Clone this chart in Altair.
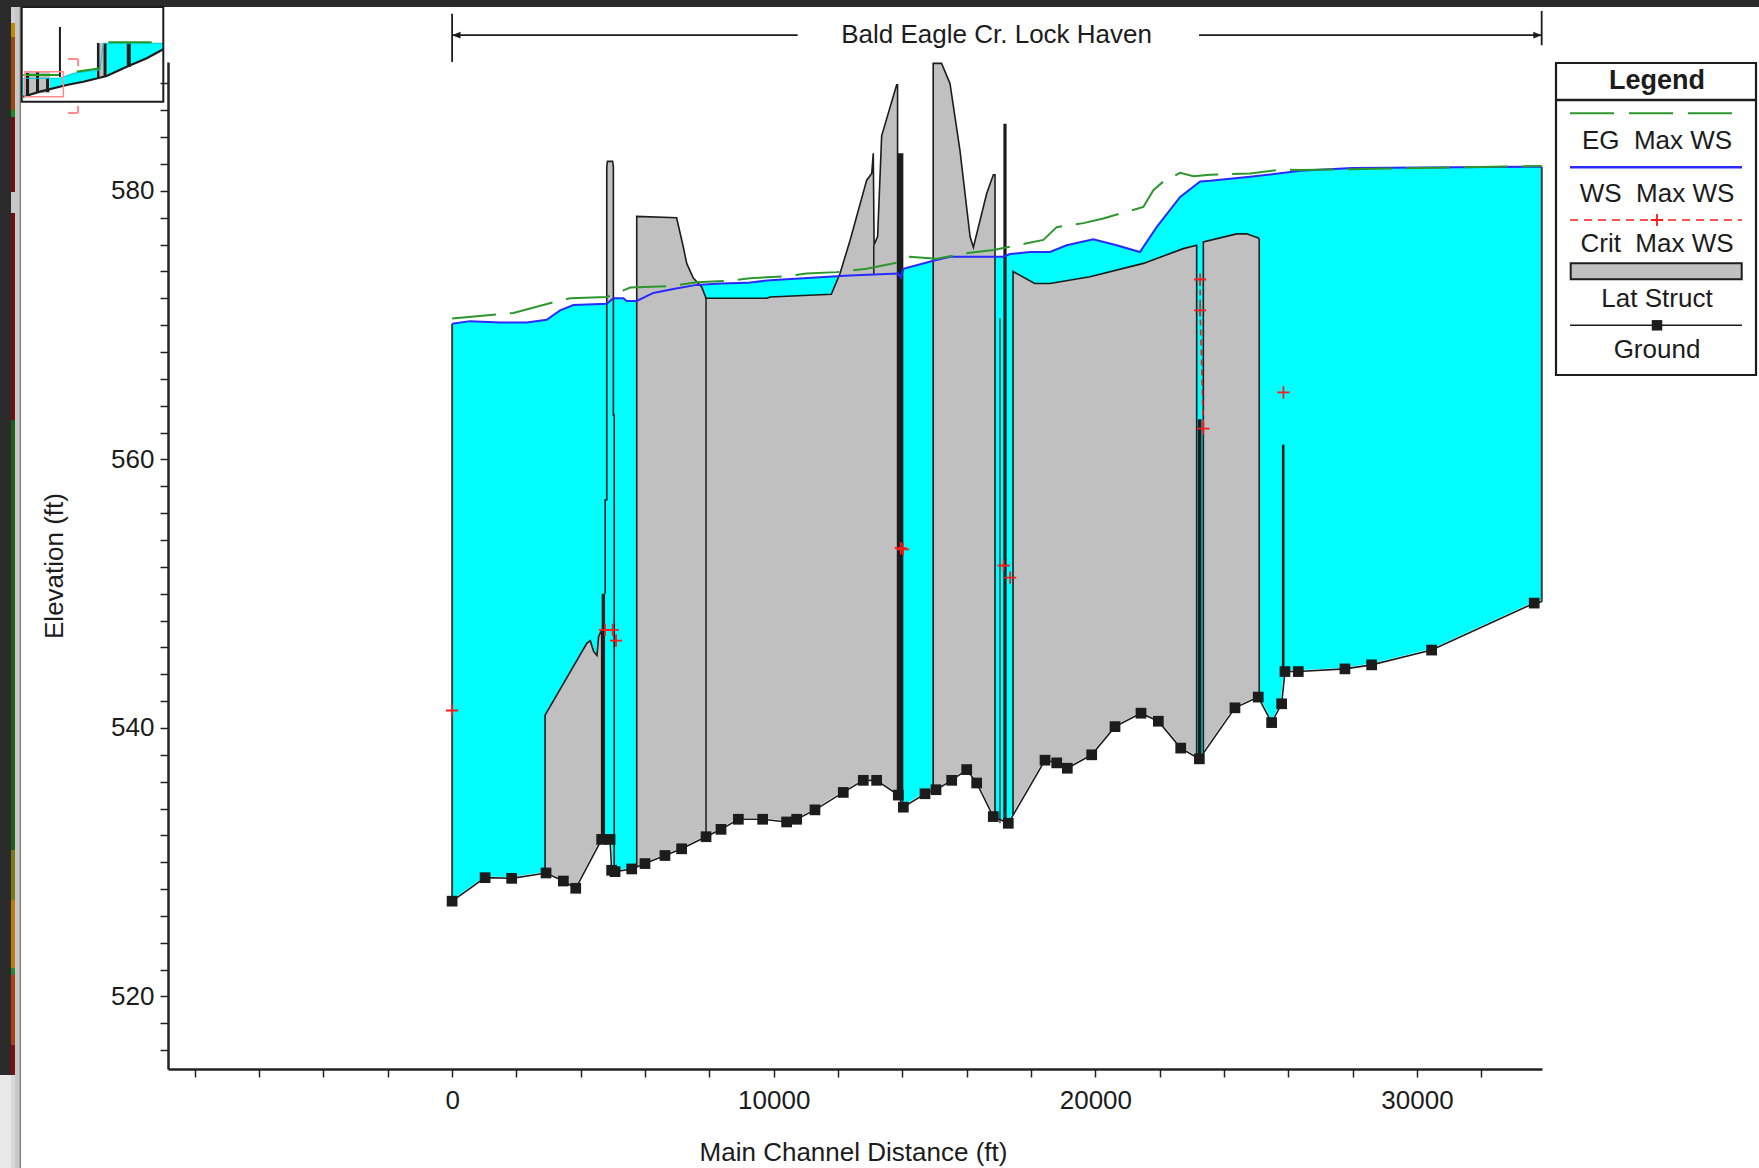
import altair as alt
import pandas as pd

FONT = "Liberation Sans"
INK = "#1c1c1c"
CYAN = "#00ffff"
GRAY = "#c0c0c0"
WS_BLUE = "#2a2aff"
EG_GREEN = "#2e962e"
RED = "#ff1a1a"

# ---------------------------------------------------------------- data
GROUND_X = [0, 1026, 1852, 2920, 3458, 3843, 4650, 4911, 4960, 5066, 5584, 5996, 6618, 7136,
            7895, 8361, 8900, 9655, 10400, 10713, 11282, 12162, 12784, 13199, 13873, 14029,
            14703, 15045, 15533, 16000, 16310, 16826, 17293, 18434, 18798, 19128, 19886, 20611,
            21419, 21958, 22654, 23233, 24340, 25064, 25480, 25791, 25895, 26309, 27760, 28590,
            30455, 33645]
GROUND_E = [527.1, 528.85, 528.8, 529.2, 528.6, 528.06, 531.7, 531.7, 529.4, 529.3, 529.5, 529.9,
            530.5, 531.0, 531.9, 532.45, 533.2, 533.2, 533.0, 533.2, 533.9, 535.2, 536.1, 536.1,
            535.0, 534.1, 535.1, 535.4, 536.1, 536.9, 535.9, 533.4, 532.9, 537.6, 537.4, 537.0,
            538.0, 540.1, 541.1, 540.5, 538.5, 537.7, 541.5, 542.3, 540.4, 541.8, 544.2, 544.2,
            544.4, 544.7, 545.8, 549.3]
GROUND_END_X = [33880]
GROUND_END_E = [549.4]

WS_X = [0, 560, 1490, 2320, 2940, 3357, 3770, 4808, 5014, 5325, 5428, 5740, 6258, 6880, 7600,
        8330, 9160, 9885, 10920, 11955, 12372, 13870, 13950, 14030, 14958, 15480, 17137, 17345,
        17967, 18589, 19107, 19934, 20662, 21386, 21905, 22636, 23258, 23569, 24812, 26367,
        28000, 33880]
WS_E = [570.1, 570.3, 570.2, 570.2, 570.4, 571.1, 571.5, 571.6, 572.0, 572.0, 571.8, 571.8,
        572.4, 572.7, 573.0, 573.1, 573.15, 573.35, 573.5, 573.65, 573.7, 573.85, 573.55, 574.2,
        574.8, 575.1, 575.1, 575.3, 575.45, 575.45, 575.95, 576.4, 575.95, 575.45, 577.3, 579.55,
        580.7, 580.75, 581.05, 581.5, 581.7, 581.8]

EG_X = [0, 1390, 1905, 3150, 3670, 4808, 5540, 6780, 7600, 8640, 9260, 10400, 11020, 11955,
        12890, 13927, 14186, 15068, 16104, 16828, 17866, 18384, 18798, 19626, 20248, 21492,
        21803, 22114, 22636, 23050, 23569, 24812, 25848, 26367, 33880]
EG_E = [570.5, 570.8, 570.9, 571.7, 572.0, 572.1, 572.8, 572.9, 573.2, 573.3, 573.5, 573.65,
        573.85, 573.95, 574.2, 574.7, 575.1, 574.95, 575.4, 575.6, 576.1, 576.35, 577.3, 577.6,
        577.95, 578.8, 580.05, 580.7, 581.35, 581.1, 581.2, 581.3, 581.6, 581.55, 581.85]

CRIT_X = [0, 4755, 4994, 5097, 13950, 14020, 17150, 17350, 23258, 23258, 23357, 25848]
CRIT_E = [541.3, 547.3, 547.3, 546.5, 553.4, 553.3, 552.1, 551.2, 573.4, 571.1, 562.3, 565.0]
CRIT_LINE_X = [23258, 23258, 23357]
CRIT_LINE_E = [573.4, 571.1, 562.3]

# lateral structures: crest profile + ground at both ends
LAT_NAMES = ["A", "B", "E", "F1", "F2"]
LAT_TOP_X = {
    "A": [2890, 4187, 4296, 4400, 4504, 4555, 4650],
    "B": [5740, 6980, 7190, 7294, 7500, 7760, 7864, 7895, 9780, 9885, 11790, 12060, 12372,
          12890, 13046, 13095, 13120, 13230, 13355, 13822, 13850],
    "E": [14958, 15218, 15480, 15791, 16104, 16207, 16621, 16828, 16880],
    "F1": [17440, 18114, 18589, 19832, 21492, 22735, 23150],
    "F2": [23357, 24392, 24703, 25066, 25095],
}
LAT_TOP_E = {
    "A": [540.95, 546.3, 546.5, 545.7, 545.4, 546.8, 547.3],
    "B": [578.1, 578.0, 575.8, 574.6, 573.5, 572.85, 572.2, 572.0, 572.0, 572.1, 572.3, 573.85,
          576.3, 580.8, 581.3, 582.8, 576.0, 576.6, 584.1, 587.9, 587.9],
    "E": [589.5, 589.5, 588.0, 583.0, 576.6, 575.8, 579.8, 581.2, 581.2],
    "F1": [574.0, 573.1, 573.1, 573.6, 574.6, 575.7, 575.95],
    "F2": [576.2, 576.8, 576.8, 576.5, 576.4],
}
LAT_GROUND_L = {"A": 529.2, "B": 529.6, "E": 535.3, "F1": 533.5, "F2": 538.1}
LAT_GROUND_R = {"A": 531.7, "B": 535.05, "E": 533.4, "F1": 537.8, "F2": 542.2}

COL_TOP_X = [4808, 4830, 4990, 5014]
COL_TOP_E = [581.8, 582.2, 582.2, 581.8]
COL_BOTTOM = 571.8
COL_OUT_X = [4760, 4760, 4808, 4808, 4830, 4990, 5014, 5014, 5040, 5040]
COL_OUT_E = [550.0, 557.0, 557.0, 581.8, 582.2, 582.2, 581.8, 563.3, 563.3, 529.35]

# inline structures (solid black)
BAR_X1 = [4650, 13850, 17140, 23190]
BAR_X2 = [4755, 14030, 17240, 23300]
BAR_TOP = [550.0, 582.8, 585.0, 563.0]

# single vertical strokes
RULE_X = [0, 33880, 7895, 17034, 25840, 13110]
RULE_E0 = [527.1, 549.4, 531.9, 532.9, 544.2, 573.8]
RULE_E1 = [570.1, 581.8, 572.1, 570.5, 561.1, 576.0]
RULE_W = [2.0, 2.0, 1.5, 1.2, 2.6, 1.5]
RULE_C = ["#404040", "#404040", INK, INK, INK, INK]

REACH_LABEL = "Bald Eagle Cr. Lock Haven"
REACH_X = [0, 23224, 0, 33877]
REACH_X2 = [10743, 33877, 0, 33877]
REACH_E = [591.6, 591.6, 589.6, 590.85]
REACH_E2 = [591.6, 591.6, 593.2, 593.4]
REACH_LABEL_X = 16930
REACH_LABEL_E = 591.6

# overview inset (schematic units 0-100)
MINI_GROUND_X = [1.1, 12.9, 31.8, 43.5, 60.0, 74.2, 88.3, 100.0]
MINI_GROUND_E = [5.3, 10.6, 17.6, 21.1, 27.1, 37.0, 45.8, 55.3]
MINI_WS_X = [1.1, 27.0, 36.4, 55.3, 57.6, 100.0]
MINI_WS_E = [24.7, 24.7, 30.0, 33.5, 61.7, 61.7]
MINI_EG_SEG = [0, 0, 1, 1, 2, 2]
MINI_EG_X = [1.1, 27.0, 38.8, 55.3, 61.2, 91.8]
MINI_EG_E = [28.2, 28.2, 31.7, 35.3, 62.7, 62.7]
MINI_RECT_X1 = [2.3, 3.0, 10.1, 17.2, 53.0, 53.2, 57.8, 74.2]
MINI_RECT_X2 = [20.0, 5.2, 12.2, 19.3, 60.0, 54.9, 59.9, 77.0]
MINI_RECT_E1 = [9.2, 7.1, 10.2, 10.2, 26.1, 26.1, 26.1, 36.6]
MINI_RECT_E2 = [31.4, 30.3, 31.4, 25.0, 62.0, 62.0, 62.0, 62.0]
MINI_RECT_C = [GRAY, INK, INK, INK, GRAY, INK, INK, INK]
MINI_MARK_X1 = [27.0, 32.7, 39.8, 32.7, 39.8]
MINI_MARK_X2 = [27.0, 39.8, 39.8, 39.8, 39.8]
MINI_MARK_E1 = [26.1, 45.1, 45.1, -11.9, -11.9]
MINI_MARK_E2 = [78.9, 45.1, 37.7, -11.9, -4.5]
MINI_MARK_C = [INK, "#ff8c8c", "#ff8c8c", "#ff8c8c", "#ff8c8c"]

# screenshot frame (page pixels)
FRAME_X1 = [0, 0, 0, 15, 19.5] + [11] * 14
FRAME_X2 = [1759, 11, 11, 19.5, 21] + [15] * 14
FRAME_Y1 = [0, 0, 1075, 7, 7, 7, 23, 37, 110, 117, 192, 213, 420, 850, 900, 968, 975, 1045, 1075]
FRAME_Y2 = [7, 1075, 1168, 1168, 1168, 23, 37, 110, 117, 192, 213, 420, 850, 900, 968, 975, 1045, 1075, 1168]
FRAME_C = ["#2b2b2b", "#2b2b2b", "#e8e8e8", "#c8c8c8", "#7c7c7c",
           "#d0d0d0", "#c08a00", "#9a4a0c", "#1f8a1f", "#6e1010", "#c8c8c8", "#6e1010",
           "#1d5e1d", "#7a7a12", "#c07a10", "#2a8a2a", "#b0400f", "#7a1010", "#d8d8d8"]

LEGEND_TITLE = "Legend"
LEGEND_LABELS = ["EG\u00a0\u00a0Max WS", "WS\u00a0\u00a0Max WS", "Crit\u00a0\u00a0Max WS", "Lat Struct", "Ground"]

# ---------------------------------------------------------------- layout
X_MIN, X_MAX = -8834, 33887
Y_MIN, Y_MAX = 514.6, 589.6
W, H = 1374, 1007
OX, OY = 168, 62

xs = alt.Scale(domain=[X_MIN, X_MAX], nice=False, zero=False)
ys = alt.Scale(domain=[Y_MIN, Y_MAX], nice=False, zero=False)

axis_common = dict(
    domainColor="#222", domainWidth=2.5, tickColor="#222", tickWidth=1.5, tickSize=8,
    labelFont=FONT, labelFontSize=26, labelColor=INK, titleFont=FONT, titleFontSize=26,
    titleFontWeight="normal", titleColor=INK, grid=False, zindex=1, labelFlush=False,
    labelOverlap=False,
)
xaxis = alt.Axis(
    values=list(range(-8000, 33000, 2000)), format="d",
    labelExpr="datum.value % 10000 == 0 ? datum.label : ''",
    title="Main Channel Distance (ft)", labelPadding=10,
    titleX=685, titleY=91, titleAlign="center", titleBaseline="alphabetic",
    **axis_common,
)
yaxis = alt.Axis(
    values=list(range(516, 590, 2)), format="d",
    labelExpr="datum.value % 20 == 0 ? datum.label : ''",
    title="Elevation (ft)", labelPadding=6,
    titleAngle=270, titleX=-106, titleY=503.5, titleAlign="center", titleBaseline="alphabetic",
    **axis_common,
)


def X(f="x"):
    return alt.X(f"{f}:Q", scale=xs, axis=xaxis)


def Y(f="e"):
    return alt.Y(f"{f}:Q", scale=ys, axis=yaxis, stack=None)


# ---------------------------------------------------------------- tables
df_ws = pd.DataFrame({"x": WS_X, "e": WS_E, "b": Y_MIN})
df_eg = pd.DataFrame({"x": EG_X, "e": EG_E})
df_g = pd.DataFrame({"x": GROUND_X, "e": GROUND_E})
df_gl = pd.DataFrame({"x": GROUND_X + GROUND_END_X, "e": GROUND_E + GROUND_END_E, "b": Y_MIN})

fill_rows, out_rows = [], []
for n in LAT_NAMES:
    for xv, ev in zip(LAT_TOP_X[n], LAT_TOP_E[n]):
        fill_rows.append({"name": n, "x": xv, "e": ev, "b": Y_MIN})
    ox = [LAT_TOP_X[n][0]] + LAT_TOP_X[n] + [LAT_TOP_X[n][-1]]
    oe = [LAT_GROUND_L[n]] + LAT_TOP_E[n] + [LAT_GROUND_R[n]]
    for i, (xv, ev) in enumerate(zip(ox, oe)):
        out_rows.append({"name": n, "i": i, "x": xv, "e": ev})
for xv, ev in zip(COL_TOP_X, COL_TOP_E):
    fill_rows.append({"name": "COL", "x": xv, "e": ev, "b": COL_BOTTOM})
for i, (xv, ev) in enumerate(zip(COL_OUT_X, COL_OUT_E)):
    out_rows.append({"name": "COL", "i": i, "x": xv, "e": ev})
df_sf = pd.DataFrame(fill_rows)
df_out = pd.DataFrame(out_rows)

df_bar = pd.DataFrame({"x": BAR_X1, "x2": BAR_X2, "e": BAR_TOP, "b": Y_MIN})
df_rules = pd.DataFrame({"x": RULE_X, "e": RULE_E0, "e2": RULE_E1, "w": RULE_W, "c": RULE_C})
df_c = pd.DataFrame({"x": CRIT_X, "e": CRIT_E})
df_cl = pd.DataFrame({"x": CRIT_LINE_X, "e": CRIT_LINE_E, "i": list(range(len(CRIT_LINE_X)))})
df_hr = pd.DataFrame({"x": REACH_X, "x2": REACH_X2, "e": REACH_E, "e2": REACH_E2})
df_ha = pd.DataFrame({"x": [REACH_X[0], REACH_X2[1]], "e": [REACH_E[0], REACH_E[1]],
                      "s": ["M0,0L2,-0.8L2,0.8Z", "M0,0L-2,-0.8L-2,0.8Z"]})
df_ht = pd.DataFrame({"x": [REACH_LABEL_X], "e": [REACH_LABEL_E], "t": [REACH_LABEL]})

# ---------------------------------------------------------------- main plot
water = alt.Chart(df_ws).mark_area(color=CYAN, opacity=1).encode(x=X(), y=Y(), y2="b:Q")
struct_fill = alt.Chart(df_sf).mark_area(color=GRAY, opacity=1).encode(
    x=X(), y=Y(), y2="b:Q", detail="name:N")
bars = alt.Chart(df_bar).mark_rect(color=INK).encode(x=X(), x2="x2:Q", y=Y(), y2="b:Q")
mask = alt.Chart(df_gl).mark_area(color="white", opacity=1, stroke="white",
                                  strokeWidth=2.5).encode(x=X(), y=Y(), y2="b:Q")
outline = alt.Chart(df_out).mark_line(color=INK, strokeWidth=1.6).encode(
    x=X(), y=Y(), detail="name:N", order="i:Q")
rules = alt.Chart(df_rules).mark_rule().encode(
    x=X(), y=Y(), y2="e2:Q",
    strokeWidth=alt.StrokeWidth("w:Q", scale=None, legend=None),
    color=alt.Color("c:N", scale=None, legend=None))
ground_line = alt.Chart(df_gl).mark_line(color=INK, strokeWidth=1.6).encode(x=X(), y=Y())
ground_pts = alt.Chart(df_g).mark_point(shape="square", filled=True, size=115, color=INK,
                                        opacity=1).encode(x=X(), y=Y())
ws_line = alt.Chart(df_ws).mark_line(color=WS_BLUE, strokeWidth=2).encode(x=X(), y=Y())
eg_line = alt.Chart(df_eg).mark_line(color=EG_GREEN, strokeWidth=2, strokeDash=[44, 14]).encode(
    x=X(), y=Y())
crit_line = alt.Chart(df_cl).mark_line(color=RED, strokeWidth=1.6, strokeDash=[6, 4]).encode(
    x=X(), y=Y(), order="i:Q")
crit_pts = alt.Chart(df_c).mark_point(shape="M-1,0H1M0,-1V1", filled=False, size=150, color=RED,
                                      strokeWidth=1.8, opacity=1).encode(x=X(), y=Y())
hdr_rules = alt.Chart(df_hr).mark_rule(color=INK, strokeWidth=1.8).encode(
    x=X(), x2="x2:Q", y=Y(), y2="e2:Q")
hdr_arrows = alt.Chart(df_ha).mark_point(filled=True, size=70, color=INK, opacity=1).encode(
    x=X(), y=Y(), shape=alt.Shape("s:N", scale=None, legend=None))
hdr_text = alt.Chart(df_ht).mark_text(font=FONT, fontSize=26, color=INK, align="center",
                                      baseline="middle").encode(x=X(), y=Y(), text="t:N")

main = alt.layer(water, struct_fill, bars, mask, outline, rules, ground_line, ground_pts,
                 ws_line, eg_line, crit_line, crit_pts, hdr_rules, hdr_arrows, hdr_text)

# ---------------------------------------------------------------- overview inset
ixs = alt.Scale(domain=[0, 100], range=[-146.3, -4.7], nice=False, zero=False)
iys = alt.Scale(domain=[0, 100], range=[39.7, -55.0], nice=False, zero=False)


def IX(f="x"):
    return alt.X(f"{f}:Q", scale=ixs, axis=None)


def IY(f="e"):
    return alt.Y(f"{f}:Q", scale=iys, axis=None, stack=None)


df_ibox = pd.DataFrame({"x": [0], "x2": [100], "e": [0], "e2": [100]})
df_iws = pd.DataFrame({"x": MINI_WS_X, "e": MINI_WS_E, "b": 0})
df_ig = pd.DataFrame({"x": MINI_GROUND_X, "e": MINI_GROUND_E, "b": 0})
df_ieg = pd.DataFrame({"seg": MINI_EG_SEG, "x": MINI_EG_X, "e": MINI_EG_E})
df_irect = pd.DataFrame({"x": MINI_RECT_X1, "x2": MINI_RECT_X2, "e": MINI_RECT_E1,
                         "e2": MINI_RECT_E2, "c": MINI_RECT_C})
df_imark = pd.DataFrame({"x": MINI_MARK_X1, "x2": MINI_MARK_X2, "e": MINI_MARK_E1,
                         "e2": MINI_MARK_E2, "c": MINI_MARK_C})
df_ired = pd.DataFrame({"x": [2.3], "x2": [29.4], "e": [5.3], "e2": [31.7]})

i_box = alt.Chart(df_ibox).mark_rect(fill="white").encode(x=IX(), x2="x2:Q", y=IY(), y2="e2:Q")
i_water = alt.Chart(df_iws).mark_area(color=CYAN, opacity=1).encode(x=IX(), y=IY(), y2="b:Q")
i_mask = alt.Chart(df_ig).mark_area(color="white", opacity=1).encode(x=IX(), y=IY(), y2="b:Q")
i_rect = alt.Chart(df_irect).mark_rect(opacity=1).encode(
    x=IX(), x2="x2:Q", y=IY(), y2="e2:Q", color=alt.Color("c:N", scale=None, legend=None))
i_ground = alt.Chart(df_ig).mark_line(color=INK, strokeWidth=2.2).encode(x=IX(), y=IY())
i_eg = alt.Chart(df_ieg).mark_line(color="#1f9a1f", strokeWidth=2).encode(
    x=IX(), y=IY(), detail="seg:N")
i_wsline = alt.Chart(df_iws).mark_line(color="#00c8e0", strokeWidth=1).encode(x=IX(), y=IY())
i_marks = alt.Chart(df_imark).mark_rule(strokeWidth=2).encode(
    x=IX(), x2="x2:Q", y=IY(), y2="e2:Q", color=alt.Color("c:N", scale=None, legend=None))
i_red = alt.Chart(df_ired).mark_rect(filled=False, stroke="#ff8c8c", strokeWidth=1.5).encode(
    x=IX(), x2="x2:Q", y=IY(), y2="e2:Q")
i_border = alt.Chart(df_ibox).mark_rect(filled=False, stroke=INK, strokeWidth=2).encode(
    x=IX(), x2="x2:Q", y=IY(), y2="e2:Q")

inset = alt.layer(i_box, i_water, i_mask, i_rect, i_wsline, i_ground, i_eg, i_marks, i_red,
                  i_border)

# ---------------------------------------------------------------- screenshot frame
fxs = alt.Scale(domain=[0, 1759], range=[-OX, 1759 - OX], nice=False, zero=False)
fys = alt.Scale(domain=[0, 1168], range=[-OY, 1168 - OY], nice=False, zero=False)
df_frame = pd.DataFrame({"x": FRAME_X1, "x2": FRAME_X2, "y": FRAME_Y1, "y2": FRAME_Y2,
                         "c": FRAME_C})
frame = alt.Chart(df_frame).mark_rect(opacity=1).encode(
    x=alt.X("x:Q", scale=fxs, axis=None), x2="x2:Q",
    y=alt.Y("y:Q", scale=fys, axis=None), y2="y2:Q",
    color=alt.Color("c:N", scale=None, legend=None))

# ---------------------------------------------------------------- legend box
one = pd.DataFrame({"k": [0]})
LX0, LX1, LCX = 1388, 1588, 1489
SX0, SX1 = 1402, 1574


def lg_text(t, y, bold=False, size=26):
    return alt.Chart(pd.DataFrame({"t": [t]})).mark_text(
        font=FONT, fontSize=size, fontWeight="bold" if bold else "normal", color=INK,
        align="center", baseline="middle").encode(
        x=alt.value(LCX), y=alt.value(y), text="t:N")


def lg_rule(x1, x2, y1, y2, color, width, dash=None):
    kw = dict(color=color, strokeWidth=width)
    if dash is not None:
        kw["strokeDash"] = dash
    return alt.Chart(one).mark_rule(**kw).encode(
        x=alt.value(x1), x2=alt.value(x2), y=alt.value(y1), y2=alt.value(y2))


legend_layers = [
    alt.Chart(one).mark_rect(fill="white", stroke=INK, strokeWidth=2.2).encode(
        x=alt.value(LX0), x2=alt.value(LX1), y=alt.value(1), y2=alt.value(313)),
    lg_rule(LX0, LX1, 38, 38, INK, 2.5),
    lg_text(LEGEND_TITLE, 19, bold=True, size=27),
    lg_rule(SX0 + 0, 1565, 51.3, 51.3, EG_GREEN, 2, [44, 15]),
    lg_text(LEGEND_LABELS[0], 79),
    lg_rule(SX0, SX1, 105.3, 105.3, WS_BLUE, 2.5),
    lg_text(LEGEND_LABELS[1], 132),
    lg_rule(SX0, SX1, 158, 158, RED, 1.6, [8, 6]),
    alt.Chart(one).mark_point(shape="M-1,0H1M0,-1V1", filled=False, size=150, color=RED,
                              strokeWidth=1.8, opacity=1).encode(
        x=alt.value(LCX), y=alt.value(158)),
    lg_text(LEGEND_LABELS[2], 182),
    alt.Chart(one).mark_rect(fill=GRAY, stroke=INK, strokeWidth=2).encode(
        x=alt.value(1402.7), x2=alt.value(1573.7), y=alt.value(201.3), y2=alt.value(217.3)),
    lg_text(LEGEND_LABELS[3], 236.5),
    lg_rule(SX0, SX1, 263.3, 263.3, INK, 1.5),
    alt.Chart(one).mark_point(shape="square", filled=True, size=110, color=INK, opacity=1).encode(
        x=alt.value(LCX), y=alt.value(263.3)),
    lg_text(LEGEND_LABELS[4], 288),
]

chart = alt.layer(frame, main, inset, *legend_layers).resolve_scale(
    x="independent", y="independent"
).properties(
    width=W, height=H,
    padding={"left": OX, "top": OY, "right": 1759 - OX - W, "bottom": 1168 - OY - H},
    autosize=alt.AutoSizeParams(type="none"),
    background="white",
).configure(font=FONT).configure_view(stroke=None, strokeWidth=0)

chart.save("out.html", embed_options={"renderer": "svg", "actions": False})
